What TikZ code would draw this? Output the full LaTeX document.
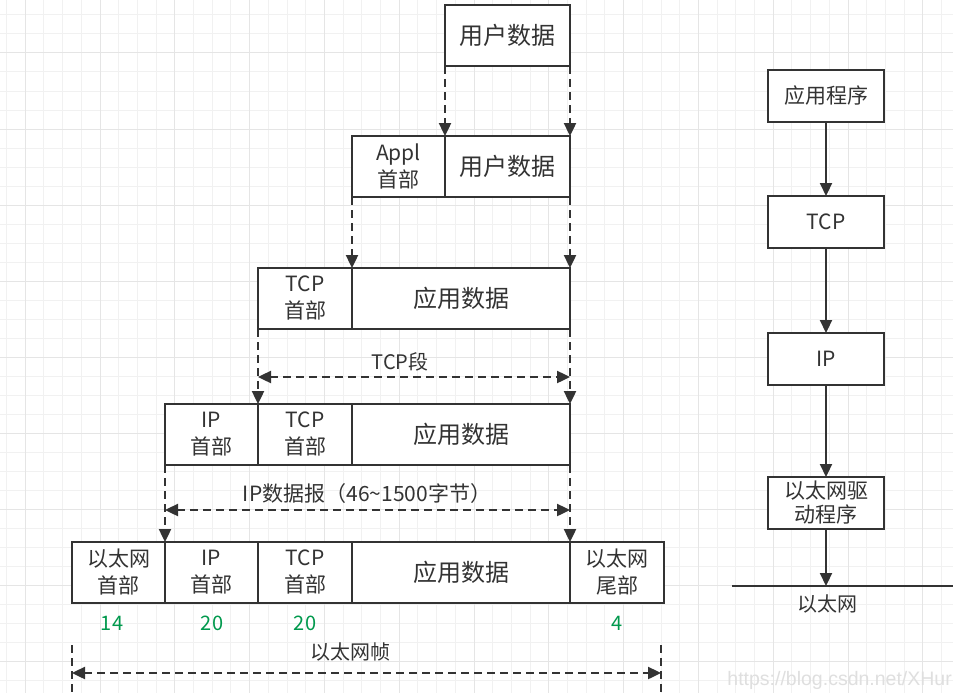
\documentclass[tikz,border=0pt]{standalone}
\usepackage{fontspec}
\setmainfont{Noto Sans CJK SC}
\newfontfamily\wmfont{Liberation Sans}
\usetikzlibrary{arrows.meta}
\definecolor{linec}{HTML}{333333}
\definecolor{textc}{HTML}{333333}
\definecolor{numc}{HTML}{00994D}
\definecolor{gridminor}{HTML}{F1F1F1}
\definecolor{gridmajor}{HTML}{E5E5E5}
\tikzset{
  cell/.style={draw=linec, line width=1.8pt, fill=white, inner sep=0pt, outer sep=0pt,
    anchor=north west, minimum height=61pt, align=center, text=textc,
    font=\fontsize{21}{27}\selectfont},
  bigtext/.style={font=\fontsize{24}{28}\selectfont},
  dimline/.style={draw=linec, line width=2.4pt, dash pattern=on 8pt off 5pt},
  myarrow/.style={-{Triangle[length=13pt,width=12pt]}},
  dblarrow/.style={{Triangle[length=13pt,width=12pt]}-{Triangle[length=13pt,width=12pt]}},
  dimlabel/.style={text=textc, inner sep=0pt, font=\fontsize{20}{24}\selectfont},
  numlabel/.style={text=numc, inner sep=0pt, font=\fontsize{20}{24}\selectfont},
  rbox/.style={draw=linec, line width=2.2pt, fill=white, minimum width=116pt, minimum height=52pt,
    inner sep=0pt, outer sep=0pt, text=textc, align=center, font=\fontsize{21}{24}\selectfont},
  solidarrow/.style={draw=linec, line width=2.2pt, -{Triangle[length=13pt,width=12pt]}},
}
\begin{document}
\begin{tikzpicture}[x=1pt,y=-1pt]
\clip (0,0) rectangle (953,693);
\fill[white] (0,0) rectangle (953,693);
% background grid
\foreach \i in {0,...,51} {
  \draw[gridminor, line width=1pt] ({6.5+18.7*\i},0) -- ({6.5+18.7*\i},693);
}
\foreach \j in {0,...,36} {
  \draw[gridminor, line width=1pt] (0,{15+19*\j}) -- (953,{15+19*\j});
}
\foreach \i in {0,...,12} {
  \draw[gridmajor, line width=1pt] ({25.2+74.8*\i},0) -- ({25.2+74.8*\i},693);
}
\foreach \j in {0,...,9} {
  \draw[gridmajor, line width=1pt] (0,{53+76*\j}) -- (953,{53+76*\j});
}

% row 1
\node[cell, bigtext, minimum width=125pt] (r1) at (445,5) {用户数据};
% row 2
\node[cell, minimum width=93pt] (r2a) at (352,136) {Appl\\首部};
\node[cell, bigtext, minimum width=125pt] (r2b) at (445,136) {用户数据};
% row 3
\node[cell, minimum width=94pt] (r3a) at (258,268) {TCP\\首部};
\node[cell, bigtext, minimum width=218pt] (r3b) at (352,268) {应用数据};
% row 4
\node[cell, minimum width=93pt] (r4a) at (165,404) {IP\\首部};
\node[cell, minimum width=94pt] (r4b) at (258,404) {TCP\\首部};
\node[cell, bigtext, minimum width=218pt] (r4c) at (352,404) {应用数据};
% row 5
\node[cell, minimum width=93pt] (r5a) at (72,542) {以太网\\首部};
\node[cell, minimum width=93pt] (r5b) at (165,542) {IP\\首部};
\node[cell, minimum width=94pt] (r5c) at (258,542) {TCP\\首部};
\node[cell, bigtext, minimum width=218pt] (r5d) at (352,542) {应用数据};
\node[cell, minimum width=94pt] (r5e) at (570,542) {以太网\\尾部};

% vertical dashed connectors
\draw[dimline, myarrow] (r1.south west) -- (r2b.north west);
\draw[dimline, myarrow] (r1.south east) -- (r2b.north east);
\draw[dimline, myarrow] (r2a.south west) -- (r3b.north west);
\draw[dimline, myarrow] (r2b.south east) -- (r3b.north east);
\draw[dimline, myarrow] (r3a.south west) -- (r4b.north west);
\draw[dimline, myarrow] (r3b.south east) -- (r4c.north east);
\draw[dimline, myarrow] (r4a.south west) -- (r5b.north west);
\draw[dimline, myarrow] (r4c.south east) -- (r5d.north east);

% TCP segment dimension
\coordinate (tcpY) at (0,377);
\draw[dimline, dblarrow] (r3a.south west |- tcpY) -- (r3b.south east |- tcpY);
\node[dimlabel] (tcpseg) at (400,362) {TCP段};

% IP datagram dimension
\coordinate (ipY) at (0,510);
\draw[dimline, dblarrow] (r4a.south west |- ipY) -- (r4c.south east |- ipY);
\node[dimlabel, font=\fontsize{21}{24}\selectfont] (ipdg) at (367,494) {IP数据报（46\textasciitilde1500字节）};

% byte counts
\node[numlabel] (n14) at (112,623) {14};
\node[numlabel] (n20a) at (212,623) {20};
\node[numlabel] (n20b) at (305,623) {20};
\node[numlabel] (n4) at (617,623) {4};

% Ethernet frame dimension
\coordinate (ethTop) at (0,645);
\coordinate (ethBot) at (0,700);
\coordinate (ethY) at (0,673);
\coordinate (ethR) at ([xshift=-3pt]r5e.south east);
\draw[dimline] (r5a.south west |- ethTop) -- (r5a.south west |- ethBot);
\draw[dimline] (ethR |- ethTop) -- (ethR |- ethBot);
\draw[dimline, dblarrow] (r5a.south west |- ethY) -- (ethR |- ethY);
\node[dimlabel] (ethframe) at (350,652) {以太网帧};

% right-hand protocol stack
\node[rbox] (app) at (826,96) {应用程序};
\node[rbox] (tcp) at (826,222) {TCP};
\node[rbox] (ip) at (826,359) {IP};
\node[rbox] (drv) at (826,503) {以太网驱\\动程序};
\coordinate (lineL) at (732,586);
\coordinate (lineR) at (953,586);
\draw[draw=linec, line width=2.2pt] (lineL) -- (lineR);
\draw[solidarrow] (app) -- (tcp);
\draw[solidarrow] (tcp) -- (ip);
\draw[solidarrow] (ip) -- (drv);
\draw[solidarrow] (drv) -- (drv.south |- lineL);
\node[dimlabel] (ethlbl) at (827,604) {以太网};

% watermark
\node[anchor=base east, inner sep=0pt, text=gray!25, font=\wmfont\fontsize{19.5}{20}\selectfont] (wm) at (952,685) {https://blog.csdn.net/XHur};
\end{tikzpicture}
\end{document}
